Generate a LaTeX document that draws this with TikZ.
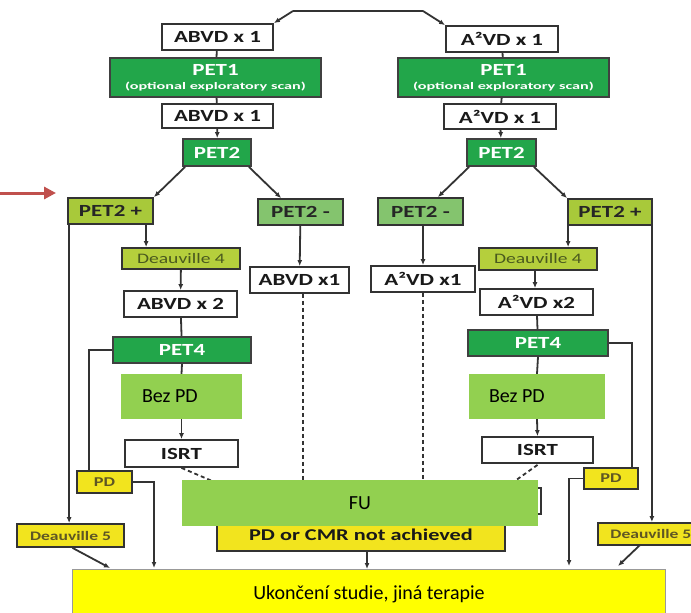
\documentclass[tikz,border=0pt]{standalone}
\usepackage{fontspec}
\usepackage{graphicx}
\setmainfont{Carlito}
\usetikzlibrary{arrows.meta,calc}
\definecolor{petgreen}{HTML}{22A64A}
\definecolor{posgreen}{HTML}{A8C93A}
\definecolor{neggreen}{HTML}{84C46E}
\definecolor{d4green}{HTML}{B5CF3C}
\definecolor{pdyellow}{HTML}{F2E41E}
\definecolor{bezgreen}{HTML}{92D050}
\definecolor{ukyellow}{HTML}{FFFF00}
\definecolor{edge}{HTML}{333333}
\definecolor{redarrow}{HTML}{C0504D}
\definecolor{olivetext}{HTML}{4A5A1E}
\definecolor{pdtext}{HTML}{5E5624}
\newcommand{\sx}[1]{\scalebox{1.35}[1]{#1}}
\tikzset{
  sz/.style 2 args={minimum width=#1, minimum height=#2},
  bx/.style={draw=edge, line width=1.8pt, inner sep=0pt, text=black!90, font=\fontsize{17}{17}\selectfont\bfseries},
  whitebox/.style={bx, fill=white},
  petbox/.style={bx, fill=petgreen, draw=black!75, text=white, font=\fontsize{17}{17}\selectfont\bfseries},
  posbox/.style={bx, fill=posgreen, text=black!85, font=\fontsize{17}{17}\selectfont\bfseries},
  negbox/.style={bx, fill=neggreen, text=black!85, font=\fontsize{17}{17}\selectfont\bfseries},
  deaubox/.style={bx, fill=d4green, text=olivetext, font=\fontsize{14.5}{14.5}\selectfont},
  pdbox/.style={bx, fill=pdyellow, text=pdtext, font=\fontsize{13.5}{13.5}\selectfont\bfseries},
  flat/.style={inner sep=0pt, font=\fontsize{20}{20}\selectfont, text=black},
  conn/.style={draw=edge, line width=1.8pt},
  arr/.style={conn, -{Latex[length=6pt,width=5pt]}},
  dsh/.style={conn, dash pattern=on 4pt off 3pt},
}
\begin{document}
\begin{tikzpicture}[x=1pt,y=-1pt]
\useasboundingbox (0,0) rectangle (691,613);
\clip (0,0) rectangle (691,613);
\fill[white] (0,0) rectangle (691,613);

% top
\coordinate (topL) at (293,11);
\coordinate (topR) at (423,11);

% left column
\node[whitebox, sz={111}{26}] (abvdA) at (217.5,37) {\sx{ABVD x 1}};
\node[petbox, sz={211}{39}, align=center] (pet1L) at (215.5,77.5) {\sx{PET1}\\[-3pt]{\fontsize{10}{10}\selectfont\sx{\scalebox{1.2}[1]{(optional exploratory scan)}}}};
\node[whitebox, sz={111}{24}] (abvdB) at (217.5,116) {\sx{ABVD x 1}};
\node[petbox, sz={68}{27}] (pet2L) at (217,152.5) {\sx{PET2}};
\node[posbox, sz={85}{26}] (pet2pL) at (110.5,211) {\sx{PET2 +}};
\node[negbox, sz={85}{26}] (pet2mL) at (300.5,212) {\sx{PET2 -}};
\node[deaubox, sz={118}{21}] (deau4L) at (181,258.5) {\sx{Deauville 4}};
\node[whitebox, sz={99}{26}] (abvd1L) at (299.5,280) {\sx{ABVD x1}};
\node[whitebox, sz={113}{26}] (abvd2L) at (180.5,304) {\sx{ABVD x 2}};
\node[petbox, sz={138}{26}] (pet4L) at (182,350) {\sx{PET4}};
\node[whitebox, sz={113}{27}] (isrtL) at (181.5,453.5) {\sx{ISRT}};
\node[pdbox, sz={55}{22}] (pdL) at (104.5,482) {\sx{PD}};
\node[pdbox, sz={107}{23}, font=\fontsize{13}{13}\selectfont\bfseries] (deau5L) at (70.5,535.5) {\sx{Deauville 5}};

% right column
\node[whitebox, sz={112}{26}] (a2vdA) at (502,39) {\sx{A²VD x 1}};
\node[petbox, sz={211}{39}, align=center] (pet1R) at (503.5,77.5) {\sx{PET1}\\[-3pt]{\fontsize{10}{10}\selectfont\sx{\scalebox{1.2}[1]{(optional exploratory scan)}}}};
\node[whitebox, sz={112}{25}] (a2vdB) at (500,116.5) {\sx{A²VD x 1}};
\node[petbox, sz={69}{27}] (pet2R) at (501.5,152.5) {\sx{PET2}};
\node[negbox, sz={85}{27}] (pet2mR) at (420.5,211.5) {\sx{PET2 -}};
\node[posbox, sz={84}{26}] (pet2pR) at (610,212) {\sx{PET2 +}};
\node[deaubox, sz={118}{22}] (deau4R) at (538,259) {\sx{Deauville 4}};
\node[whitebox, sz={104}{26}] (a2vd1R) at (423,279) {\sx{A²VD x1}};
\node[whitebox, sz={113}{26}] (a2vd2R) at (536.5,302) {\sx{A²VD x2}};
\node[petbox, sz={140}{26}] (pet4R) at (538,343) {\sx{PET4}};
\node[whitebox, sz={111}{26}] (isrtR) at (537.5,450) {\sx{ISRT}};
\node[pdbox, sz={54}{21}] (pdR) at (611,478.5) {\sx{PD}};
\node[pdbox, sz={103}{22}, anchor=west, font=\fontsize{13}{13}\selectfont\bfseries] (deau5R) at (597,534) {\hspace{3pt}\sx{Deauville 5}};

% bottom
\node[whitebox, sz={80}{26}] (fuhid) at (501,501) {};
\node[pdbox, sz={288}{32}, text=black!90, font=\fontsize{16.5}{16.5}\selectfont\bfseries] (pdcmr) at (361,535) {\raisebox{-4pt}{\sx{PD or CMR not achieved}}};
\node[fill=ukyellow, draw=black!40, line width=0.8pt, sz={593}{60}, inner sep=0pt] (ukon) at (368.5,599) {};
\node[flat, font=\fontsize{20}{20}\selectfont] (ukontext) at (369,594) {Ukončení studie, jiná terapie};

% connectors (top)
\draw[conn] (topL) -- (topR);
\draw[arr] (topL) -- (abvdA.north east);
\draw[arr] (topR) -- (a2vdA.north west);
\draw[conn] (abvdA) -- (pet1L);
\draw[conn] (pet1L) -- (abvdB);
\draw[arr] (abvdB) -- (pet2L);
\draw[conn] (a2vdA) -- (pet1R);
\draw[conn] (pet1R) -- (a2vdB);
\draw[arr] (a2vdB) -- (pet2R);

% PET2 branches
\draw[arr] ($(pet2L.south west)+(3,0)$) -- (pet2pL.north east);
\draw[arr] ($(pet2L.south east)+(-3,0)$) -- ($(pet2mL.north west)+(24,0)$);
\draw[arr] ($(pet2R.south west)+(3,0)$) -- ($(pet2mR.north east)+(-26,0)$);
\draw[arr] ($(pet2R.south east)+(-3,0)$) -- (pet2pR.north west);

% left chain
\draw[arr] (pet2pL.south -| deau4L.west) ++(25,0) coordinate (c1) -- (c1 |- deau4L.north);
\draw[arr] (deau4L) -- (abvd2L);
\draw[conn] (abvd2L) -- (pet4L);
\draw[arr] (pet2mL) -- (abvd1L);
\draw[dsh] (abvd1L.south -| 303,0) -- (303,490);
\draw[dsh] (isrtL.south) -- (245,495);
\draw[arr] ($(pet2pL.south west)+(2,0)$) coordinate (c2) -- (c2 |- deau5L.north);
\draw[conn] (pet4L.west) -| (pdL.north -| 89,0);
\draw[arr] (pdL.east) -| (154,568);
\draw[arr] ($(deau5L.south)+(2,0)$) -- (110,568);

% right chain
\draw[arr] (pet2pR.south west) ++(1,0) coordinate (c3) -- (c3 |- deau4R.north);
\draw[arr] (deau4R.south -| 535,0) -- (a2vd2R.north -| 535,0);
\draw[conn] (a2vd2R) -- (pet4R);
\draw[arr] (pet2mR.south -| a2vd1R.north) -- (a2vd1R.north);
\draw[dsh] (a2vd1R.south) -- (423,490);
\draw[dsh] ($(isrtR.south)+(0,1)$) -- (505,488);
\draw[arr] ($(pet2pR.south east)+(-1,0)$) coordinate (c4) -- (c4 |- deau5R.north);
\draw[conn] (pet4R.east) -| (pdR.north -| 632,0);
\draw[arr] (pdR.west) -| (569,566);
\draw[arr] (640,545) -- (618,566);

\draw[arr] (pdcmr.south -| 367,0) -- (367,569);

% overlays
\node[fill=bezgreen, sz={121}{45}, inner sep=0pt] (bezL) at (181.5,396.5) {};
\node[flat, anchor=west] (bezLt) at ($(bezL.west)+(21,0)$) {Bez PD};
\node[fill=bezgreen, sz={136}{45}, inner sep=0pt] (bezR) at (537,396.5) {};
\node[flat, anchor=west] (bezRt) at ($(bezR.west)+(20,0)$) {Bez PD};
\draw[conn] (pet4L.south) -- (bezL.north);
\draw[arr] (bezL.south) -- (isrtL.north);
\draw[conn] (pet4R.south) -- (bezR.north);
\draw[arr] (bezR.south) -- (isrtR.north);

\node[fill=bezgreen, sz={356}{46}, inner sep=0pt] (fu) at (360,503) {};
\node[flat] (fut) at (360,503) {FU};

% red arrow
\coordinate (redstart) at (0,193);
\coordinate (redend) at (56,193);
\draw[redarrow, line width=3pt, -{Triangle[length=12pt,width=12pt]}] (redstart) -- (redend);
\end{tikzpicture}
\end{document}
